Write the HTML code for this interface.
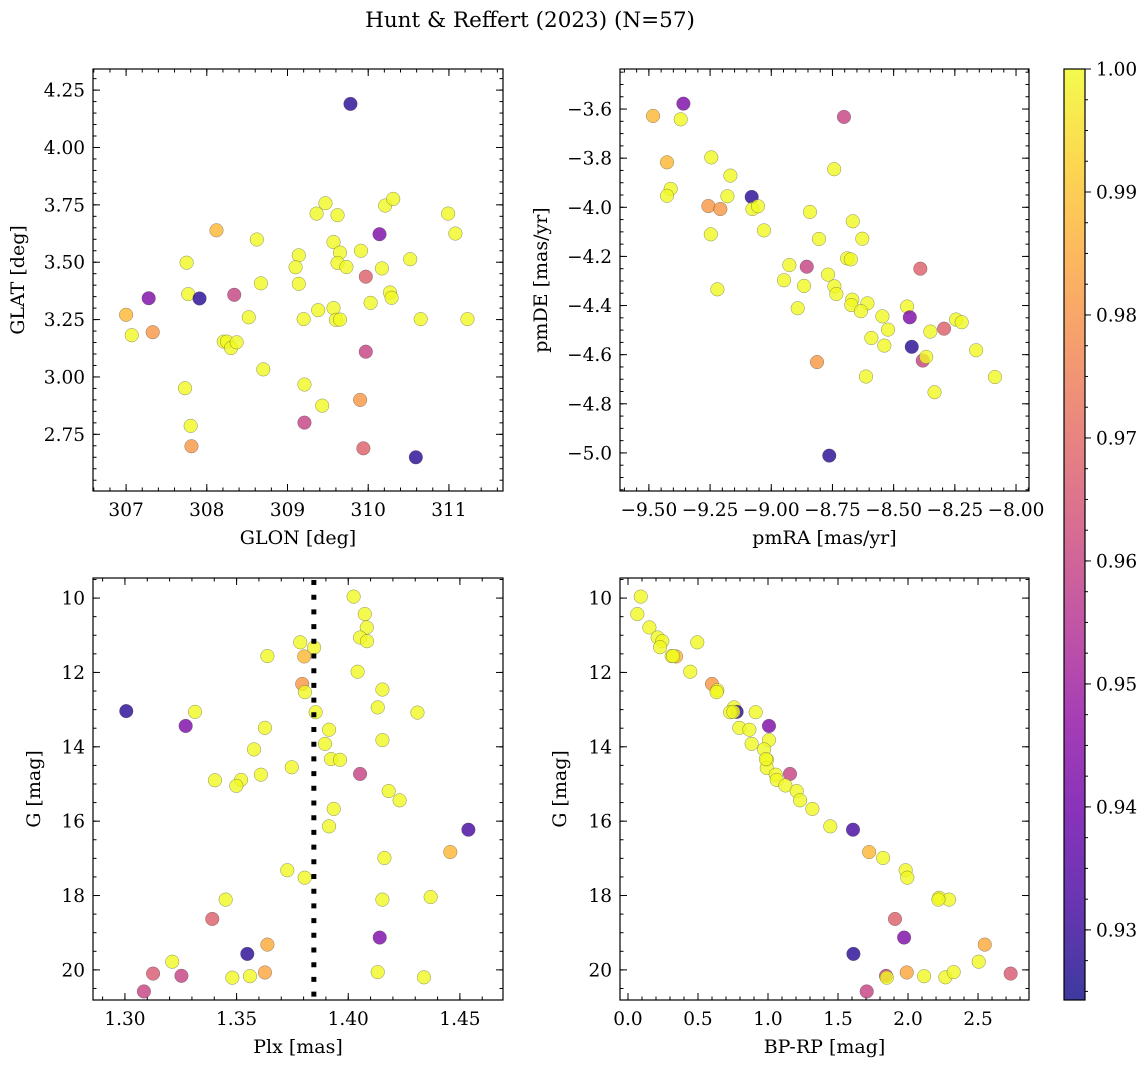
<!DOCTYPE html>
<html><head><meta charset="utf-8"><title>Hunt & Reffert (2023)</title>
<style>
html,body{margin:0;padding:0;background:#fff;}
svg{display:block;font-family:"DejaVu Serif","Liberation Serif",serif;}
</style></head>
<body>
<svg id="chart" width="1148" height="1068" viewBox="0 0 1148 1068" xmlns="http://www.w3.org/2000/svg">
<defs>
<linearGradient id="plasma" x1="0" y1="1" x2="0" y2="0">
<stop offset="0" stop-color="#0d0887"/><stop offset="0.1" stop-color="#41049d"/><stop offset="0.2" stop-color="#6a00a8"/>
<stop offset="0.3" stop-color="#8f0da4"/><stop offset="0.4" stop-color="#b12a90"/><stop offset="0.5" stop-color="#cc4778"/>
<stop offset="0.6" stop-color="#e16462"/><stop offset="0.7" stop-color="#f2844b"/><stop offset="0.8" stop-color="#fca636"/>
<stop offset="0.9" stop-color="#fcce25"/><stop offset="1" stop-color="#f0f921"/>
</linearGradient>
</defs>
<text x="530" y="27" font-size="21.5" text-anchor="middle">Hunt &amp; Reffert (2023) (N=57)</text>
</svg>
<script>
// ---- data ----
const p1Glon = [309.78,309.47,309.36,309.62,310.21,310.31,310.99,311.08,310.14,308.12,308.62,307.75,309.14,309.10,309.57,309.65,309.62,309.73,309.91,310.52,310.17,309.97,309.14,308.67,307.77,307.91,307.28,308.34,310.27,310.29,310.03,307.00,308.52,309.20,309.38,309.57,309.60,309.65,310.65,311.23,307.07,307.33,308.21,308.25,308.30,308.37,308.70,309.97,307.73,309.21,309.43,309.90,307.80,309.21,307.81,309.94,310.59];
const p1Glat = [4.19,3.757,3.712,3.705,3.747,3.776,3.712,3.625,3.622,3.639,3.599,3.498,3.530,3.478,3.588,3.542,3.497,3.479,3.550,3.513,3.473,3.437,3.406,3.408,3.361,3.342,3.343,3.358,3.368,3.345,3.323,3.271,3.260,3.252,3.291,3.300,3.249,3.250,3.252,3.252,3.182,3.195,3.154,3.154,3.126,3.151,3.033,3.110,2.951,2.967,2.875,2.900,2.787,2.801,2.698,2.689,2.650];
const p1Prob = [0.928,1,1,1,1,1,1,1,0.943,0.988,1,1,1,1,1,1,1,1,1,1,1,0.968,1,1,1,0.928,0.943,0.96,1,1,1,0.988,1,1,1,1,1,1,1,1,1,0.981,1,1,1,1,1,0.96,1,1,1,0.981,1,0.96,0.981,0.968,0.928];

const p2PmRA = [-9.359,-9.483,-9.370,-8.703,-9.426,-9.245,-9.167,-8.743,-9.411,-9.426,-9.179,-9.080,-9.077,-9.054,-9.257,-9.208,-9.030,-8.842,-9.247,-8.667,-8.805,-8.628,-8.690,-8.675,-8.926,-8.855,-8.391,-8.768,-8.948,-8.866,-8.742,-8.734,-9.220,-8.669,-8.673,-8.607,-8.634,-8.892,-8.546,-8.445,-8.434,-8.523,-8.591,-8.538,-8.426,-8.350,-8.294,-8.245,-8.222,-8.381,-8.367,-8.813,-8.163,-8.613,-8.086,-8.333,-8.763];
const p2PmDE = [-3.578,-3.628,-3.642,-3.632,-3.817,-3.797,-3.871,-3.845,-3.925,-3.953,-3.955,-3.958,-4.007,-3.996,-3.995,-4.007,-4.094,-4.019,-4.110,-4.057,-4.129,-4.128,-4.208,-4.212,-4.235,-4.242,-4.250,-4.274,-4.297,-4.320,-4.322,-4.353,-4.334,-4.376,-4.398,-4.391,-4.423,-4.411,-4.444,-4.404,-4.448,-4.498,-4.532,-4.563,-4.568,-4.506,-4.494,-4.457,-4.468,-4.624,-4.609,-4.630,-4.582,-4.689,-4.691,-4.753,-5.011];
const p2Prob = [0.943,0.988,1,0.96,0.988,1,1,1,1,1,1,0.928,1,1,0.981,0.981,1,1,1,1,1,1,1,1,1,0.96,0.968,1,1,1,1,1,1,1,1,1,1,1,1,1,0.943,1,1,1,0.928,1,0.968,1,1,0.96,1,0.981,1,1,1,1,0.928];

const p3Plx = [1.4024,1.4074,1.4083,1.4053,1.4084,1.3785,1.3847,1.3638,1.3803,1.4042,1.3794,1.3806,1.4153,1.3006,1.3314,1.3854,1.4132,1.4310,1.3272,1.3627,1.3914,1.4153,1.3896,1.3578,1.3923,1.3963,1.3747,1.4053,1.3609,1.3520,1.3499,1.3403,1.4181,1.4230,1.3935,1.3914,1.4538,1.4457,1.4162,1.3727,1.3805,1.3451,1.4153,1.4369,1.3391,1.4141,1.3638,1.3548,1.3212,1.3126,1.3253,1.3481,1.3560,1.3627,1.4132,1.4339,1.3085];
const p3G = [9.96,10.43,10.79,11.06,11.16,11.19,11.33,11.56,11.57,11.98,12.31,12.53,12.46,13.04,13.06,13.07,12.94,13.08,13.44,13.49,13.54,13.82,13.92,14.07,14.33,14.35,14.55,14.73,14.75,14.89,15.05,14.90,15.19,15.44,15.67,16.14,16.23,16.83,16.99,17.32,17.52,18.11,18.11,18.04,18.63,19.13,19.32,19.57,19.78,20.10,20.16,20.21,20.17,20.07,20.06,20.20,20.58];
const p3Prob = [1,1,1,1,1,1,1,1,0.988,1,0.981,1,1,0.928,1,1,1,1,0.943,1,1,1,1,1,1,1,1,0.96,1,1,1,1,1,1,1,1,0.932,0.988,1,1,1,1,1,1,0.968,0.943,0.985,0.928,1,0.966,0.96,1,1,0.984,1,1,0.96];
const plxMean = 1.3846;

const p4Color = [0.091,0.067,0.153,0.212,0.245,0.229,0.495,0.343,0.312,0.445,0.600,0.638,0.633,0.757,0.776,0.729,0.753,0.912,1.007,0.795,0.867,1.007,0.883,0.972,0.993,0.991,1.157,1.055,1.062,1.124,1.205,1.229,1.317,1.445,1.607,1.722,1.822,1.983,1.995,2.222,2.293,2.217,1.907,1.972,2.548,1.610,2.505,2.733,1.843,1.848,1.991,2.115,2.267,2.326,1.705,0.985,0.322];
const p4G = [9.96,10.43,10.79,11.06,11.16,11.32,11.19,11.57,11.56,11.98,12.31,12.48,12.53,12.94,13.06,13.07,13.06,13.07,13.44,13.49,13.54,13.82,13.92,14.07,14.35,14.57,14.73,14.75,14.89,15.04,15.19,15.44,15.67,16.14,16.23,16.83,16.99,17.32,17.52,18.06,18.11,18.11,18.63,19.13,19.32,19.57,19.78,20.10,20.16,20.21,20.07,20.17,20.20,20.06,20.58,14.33,11.56];
const p4Prob = [1,1,1,1,1,1,1,0.988,1,1,0.981,1,1,1,0.928,1,1,1,0.943,1,1,1,1,1,1,1,0.96,1,1,1,1,1,1,1,0.932,0.988,1,1,1,1,1,1,0.968,0.943,0.985,0.928,1,0.966,0.96,1,0.984,1,1,1,0.96,1,1];

const cbTicks = [0.93,0.94,0.95,0.96,0.97,0.98,0.99,1.00];
const cbMin = 0.9243, cbMax = 1.0;

// ---- helpers ----
const NS = "http://www.w3.org/2000/svg";
const svg = document.getElementById('chart');
function mk(tag, attrs, parent){ const e=document.createElementNS(NS,tag); for(const k in attrs) e.setAttribute(k,attrs[k]); (parent||svg).appendChild(e); return e; }

const stops=[[13,8,135],[65,4,157],[106,0,168],[143,13,164],[177,42,144],[204,71,120],[225,100,98],[242,132,75],[252,166,54],[252,206,37],[240,249,33]];
function plasma(v){
  let t=(v-cbMin)/(cbMax-cbMin); t=Math.max(0,Math.min(1,t));
  const f=t*10, i=Math.min(9,Math.floor(f)), r=f-i;
  const c=stops[i].map((a,k)=>Math.round(a+(stops[i+1][k]-a)*r));
  return `rgb(${c[0]},${c[1]},${c[2]})`;
}
function range(a,b,s){ const out=[]; const n=Math.round((b-a)/s); for(let i=0;i<=n;i++) out.push(+(a+i*s).toFixed(6)); return out; }

function panel(name, box, xd, yd, xMaj, xMin, yMaj, yMin, xLab, yLab, xFmt, yFmt, yLabX){
  const [x0,y0,x1,y1]=box;
  const sx=v=>x0+(v-xd[0])/(xd[1]-xd[0])*(x1-x0);
  const sy=v=>y0+(v-yd[0])/(yd[1]-yd[0])*(y1-y0);
  const g=mk('g',{});
  
  
  const inX=v=>v>=Math.min(...xd)-1e-9&&v<=Math.max(...xd)+1e-9;
  const inY=v=>v>=Math.min(...yd)-1e-9&&v<=Math.max(...yd)+1e-9;
  const tg=mk('g',{stroke:'#000','stroke-width':1},g);
  
  
  xMin.filter(inX).forEach(v=>{const X=sx(v); mk('line',{x1:X,x2:X,y1:y1,y2:y1-3.5},tg); mk('line',{x1:X,x2:X,y1:y0,y2:y0+3.5},tg);});
  yMin.filter(inY).forEach(v=>{const Y=sy(v); mk('line',{x1:x0,x2:x0+3.5,y1:Y,y2:Y},tg); mk('line',{x1:x1,x2:x1-3.5,y1:Y,y2:Y},tg);});
  xMaj.filter(inX).forEach(v=>{const X=sx(v); mk('line',{x1:X,x2:X,y1:y1,y2:y1-7},tg); mk('line',{x1:X,x2:X,y1:y0,y2:y0+7},tg);
    const t=mk('text',{x:X,y:y1+25,'font-size':18.5,'text-anchor':'middle'},g); t.textContent=xFmt(v);
    
    });
  yMaj.filter(inY).forEach(v=>{const Y=sy(v); mk('line',{x1:x0,x2:x0+7,y1:Y,y2:Y},tg); mk('line',{x1:x1,x2:x1-7,y1:Y,y2:Y},tg);
    const t=mk('text',{x:x0-8,y:Y+6.5,'font-size':18.5,'text-anchor':'end'},g); t.textContent=yFmt(v);
    
    });
  const fr=mk('rect',{x:x0,y:y0,width:x1-x0,height:y1-y0,fill:'none',stroke:'#000','stroke-width':1.2},g);
  
  
  const xl=mk('text',{x:(x0+x1)/2,y:y1+53,'font-size':19,'text-anchor':'middle'},g); xl.textContent=xLab;
  
  
  const cy=(y0+y1)/2;
  const yl=mk('text',{x:yLabX,y:cy,'font-size':19,'text-anchor':'middle',transform:`rotate(-90 ${yLabX} ${cy})`},g); yl.textContent=yLab;
  
  
  return {sx,sy,g};
}
function scatter(ax, xs, ys, cs, name){
  const g=mk('g',{},ax.g);
  
  
  xs.forEach((v,i)=>{
    const c=mk('circle',{cx:ax.sx(v),cy:ax.sy(ys[i]),r:6.8,fill:plasma(cs[i]),'fill-opacity':0.8,stroke:'#444','stroke-opacity':0.6,'stroke-width':0.5},g);
    
    
  });
}
const minus=s=>s.replace('-','\u2212');

// Panel 1
const a1=panel('glon-glat-panel',[93,69,503,491],[306.59,311.67],[4.342,2.503],range(307,311,1),range(306.6,311.6,0.2),range(2.75,4.25,0.25),range(2.55,4.3,0.05),'GLON [deg]','GLAT [deg]',v=>v.toFixed(0),v=>v.toFixed(2),24);
scatter(a1,p1Glon,p1Glat,p1Prob,'glon-glat-points');
// Panel 2
const a2=panel('proper-motion-panel',[620,69,1029,491],[-9.618,-7.947],[-3.437,-5.155],range(-9.5,-8.0,0.25),range(-9.6,-7.95,0.05),range(-5.0,-3.6,0.2),range(-5.15,-3.45,0.05),'pmRA [mas/yr]','pmDE [mas/yr]',v=>minus(v.toFixed(2)),v=>minus(v.toFixed(1)),547);
scatter(a2,p2PmRA,p2PmDE,p2Prob,'proper-motion-points');
// Panel 3
const a3=panel('parallax-mag-panel',[93,578,503,1000],[1.2857,1.4693],[9.46,20.81],range(1.30,1.45,0.05),range(1.29,1.46,0.01),range(10,20,2),range(9.5,20.5,0.5),'Plx [mas]','G [mag]',v=>v.toFixed(2),v=>v.toFixed(0),40);
scatter(a3,p3Plx,p3G,p3Prob,'parallax-mag-points');
const ml=mk('line',{x1:a3.sx(plxMean),x2:a3.sx(plxMean),y1:580,y2:1000,stroke:'#000','stroke-width':5,'stroke-dasharray':'5,9.7'},a3.g);


// Panel 4
const a4=panel('cmd-panel',[620,578,1029,1000],[-0.057,2.864],[9.46,20.81],range(0,2.5,0.5),range(-0.0,2.8,0.1),range(10,20,2),range(9.5,20.5,0.5),'BP-RP [mag]','G [mag]',v=>v.toFixed(1),v=>v.toFixed(0),566);
scatter(a4,p4Color,p4G,p4Prob,'cmd-points');

// Colorbar
const cb=mk('g',{});


const cbY=v=>69+(cbMax-v)/(cbMax-cbMin)*(1000-69);
const cr=mk('rect',{x:1064,y:69,width:21,height:931,fill:'url(#plasma)','fill-opacity':0.8},cb);


mk('rect',{x:1064,y:69,width:21,height:931,fill:'none',stroke:'#000','stroke-width':1.2},cb);
range(0.925,1.0,0.0025).forEach(v=>{const Y=cbY(v); mk('line',{x1:1085,x2:1088,y1:Y,y2:Y,stroke:'#000'},cb);});
cbTicks.forEach(v=>{const Y=cbY(v); mk('line',{x1:1085,x2:1091,y1:Y,y2:Y,stroke:'#000'},cb);
  const t=mk('text',{x:1096,y:Y+6.5,'font-size':18.5},cb); t.textContent=v.toFixed(2);
  
  });
</script>
</body></html>
